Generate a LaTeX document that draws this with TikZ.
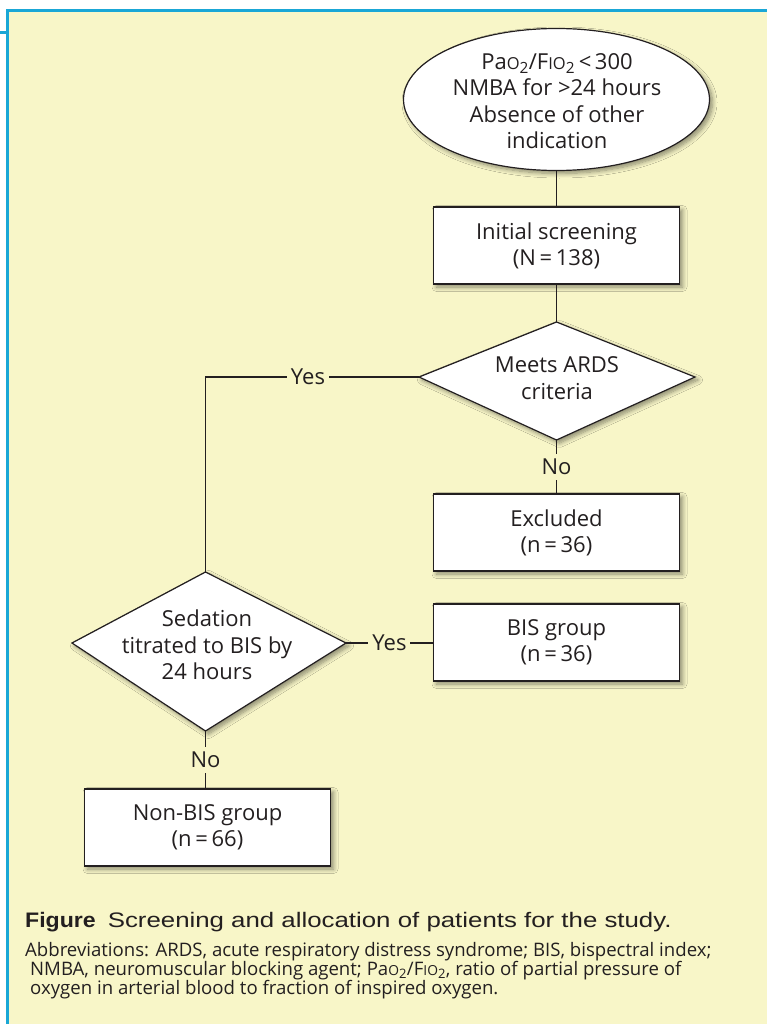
\documentclass[tikz,border=0pt]{standalone}
\usepackage{fontspec}
\setmainfont{Open Sans}
\newfontfamily\capfont[FakeStretch=1.23]{Liberation Sans}
\newfontfamily\capbold[FakeStretch=1.1]{Liberation Sans Bold}
\usetikzlibrary{shapes.geometric,shadows.blur}
\definecolor{bg}{HTML}{F8F6C8}
\definecolor{frame}{HTML}{1AA7D6}
\definecolor{ink}{HTML}{231F20}
\newcommand{\smallcapx}[2]{{\fontsize{#1}{#1}\selectfont #2}}
\begin{document}
\begin{tikzpicture}[x=1pt,y=-1pt,
  every node/.style={text=ink},
  shp/.style={draw=ink, line width=1.2pt, fill=white,
    blur shadow={shadow xshift=3pt, shadow yshift=-3pt, shadow blur radius=4.5pt, shadow blur steps=8, shadow opacity=45}},
  box/.style={shp, rectangle, minimum width=246pt, minimum height=77pt, inner sep=0pt,
    align=center, font=\fontsize{22}{26}\selectfont},
  txt/.style={align=center, font=\fontsize{22}{26.5}\selectfont, inner sep=0pt},
  lab/.style={fill=bg, font=\fontsize{22}{26}\selectfont, inner xsep=4pt, inner ysep=5pt},
  conn/.style={draw=ink, line width=1.2pt},
  capt/.style={anchor=base west, inner sep=0pt, font=\capfont\fontsize{21}{25}\selectfont},
  abbr/.style={anchor=base west, inner sep=0pt, font=\fontsize{18.6}{19}\selectfont}]
\useasboundingbox (0,0) rectangle (767,1024);
% background and frame
\fill[white] (0,0) rectangle (767,1024);
\fill[bg] (8.5,11.5) rectangle (767,1024);
\draw[frame, line width=2.6pt] (7.3,1024) -- (7.3,10.6) -- (767,10.6);
\draw[frame, line width=3pt] (0,32.5) -- (7.3,32.5);

% ellipse
\node[shp, ellipse, minimum width=306pt, minimum height=142pt, inner sep=0pt] (ell) at (556.5,99.5) {};
\node[txt] (ellt) at (557,101) {Pa\smallcapx{16.5}{O}\textsubscript{2}/F\smallcapx{16.5}{IO}\textsubscript{2}\,<\,300\\NMBA for >24 hours\\Absence of other\\indication};

% box 1
\node[box] (b1) at (556.5,245.5) {Initial screening\\(N\,=\,138)};

% diamond 1
\coordinate (d1n) at (556.5,322);
\coordinate (d1e) at (695,377);
\coordinate (d1s) at (556.5,440);
\coordinate (d1w) at (419,377);
\path[shp] (d1n) -- (d1e) -- (d1s) -- (d1w) -- cycle;
\node[txt] (d1) at (557,378) {Meets ARDS\\criteria};

% excluded
\node[box] (b2) at (556.5,532.5) {Excluded\\(n\,=\,36)};

% diamond 2
\coordinate (d2n) at (205.5,572);
\coordinate (d2e) at (346,643);
\coordinate (d2s) at (205.5,731);
\coordinate (d2w) at (72,643);
\path[shp] (d2n) -- (d2e) -- (d2s) -- (d2w) -- cycle;
\node[txt] (d2) at (207,645) {Sedation\\titrated to BIS by\\24 hours};

% BIS group
\node[box] (b3) at (556.5,642.5) {BIS group\\(n\,=\,36)};

% Non-BIS group
\node[box] (b4) at (207.5,827.5) {Non-BIS group\\(n\,=\,66)};

% connectors
\draw[conn] (ell.south) -- (b1.north);
\draw[conn] (b1.south) -- (d1n);
\draw[conn] (d1s) -- node[lab]{No} (b2.north);
\draw[conn] (d1w) -- node[lab,pos=0.52]{Yes} (d1w -| d2n) -- (d2n);
\draw[conn] (d2e) -- node[lab]{Yes} (d2e -| b3.west);
\draw[conn] (d2s) -- node[lab]{No} (d2s |- b4.north);

% caption
\node[capt] (cap) at (25,927) {{\capbold Figure}\hspace{12pt}Screening and allocation of patients for the study.};
\node[abbr] (ab1) at (25,956) {Abbreviations: ARDS, acute respiratory distress syndrome; BIS, bispectral index;};
\node[abbr] (ab2) at (30,975.3) {NMBA, neuromuscular blocking agent; Pa\smallcapx{13.8}{O}\textsubscript{2}/F\smallcapx{13.8}{IO}\textsubscript{2}, ratio of partial pressure of};
\node[abbr] (ab3) at (30,994.6) {oxygen in arterial blood to fraction of inspired oxygen.};
\end{tikzpicture}
\end{document}
